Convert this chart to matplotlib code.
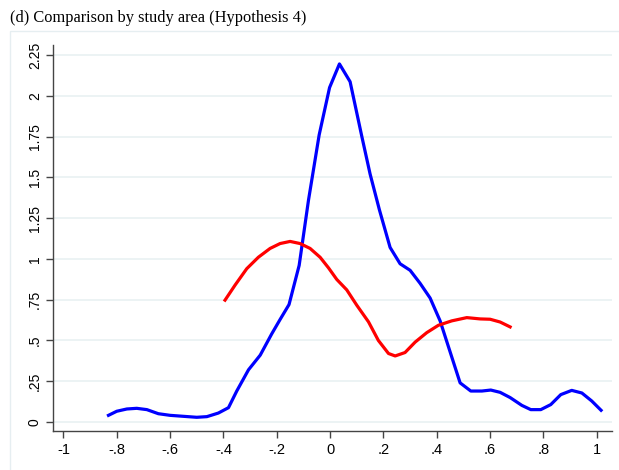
import matplotlib
matplotlib.use("Agg")
import matplotlib.pyplot as plt
from matplotlib.patches import Rectangle

# density curves
blue_x = [-0.831, -0.80, -0.762, -0.725, -0.687, -0.644, -0.60, -0.55, -0.50, -0.462,
          -0.419, -0.381, -0.35, -0.306, -0.262, -0.219, -0.187, -0.154, -0.116, -0.081,
          -0.041, -0.002, 0.035, 0.075, 0.119, 0.15, 0.185, 0.225, 0.2625, 0.30,
          0.3375, 0.375, 0.4125, 0.45, 0.4875, 0.5275, 0.569, 0.6025, 0.6375, 0.675,
          0.719, 0.7525, 0.79, 0.8275, 0.865, 0.906, 0.944, 0.981, 1.016]
blue_y = [0.041, 0.066, 0.080, 0.084, 0.076, 0.051, 0.041, 0.035, 0.029, 0.033,
          0.055, 0.088, 0.19, 0.32, 0.41, 0.54, 0.63, 0.72, 0.96, 1.36,
          1.76, 2.05, 2.195, 2.086, 1.75, 1.52, 1.30, 1.07, 0.97, 0.93,
          0.85, 0.76, 0.62, 0.43, 0.24, 0.19, 0.19, 0.196, 0.182, 0.15,
          0.102, 0.076, 0.076, 0.107, 0.168, 0.194, 0.178, 0.129, 0.072]

red_x = [-0.394, -0.356, -0.3125, -0.269, -0.225, -0.1875, -0.15, -0.1125, -0.075, -0.0375,
         -0.006, 0.025, 0.0625, 0.1, 0.144, 0.181, 0.219, 0.244, 0.281, 0.319,
         0.3625, 0.406, 0.456, 0.5125, 0.5625, 0.60, 0.6375, 0.675]
red_y = [0.747, 0.84, 0.94, 1.01, 1.064, 1.094, 1.107, 1.094, 1.064, 1.01,
         0.945, 0.874, 0.81, 0.716, 0.614, 0.50, 0.42, 0.405, 0.426, 0.49,
         0.548, 0.593, 0.62, 0.64, 0.632, 0.63, 0.613, 0.583]

x_ticks = [-1, -0.8, -0.6, -0.4, -0.2, 0, 0.2, 0.4, 0.6, 0.8, 1]
x_labels = ["-1", "-.8", "-.6", "-.4", "-.2", "0", ".2", ".4", ".6", ".8", "1"]
y_ticks = [0, 0.25, 0.5, 0.75, 1, 1.25, 1.5, 1.75, 2, 2.25]
y_labels = ["0", ".25", ".5", ".75", "1", "1.25", "1.5", "1.75", "2", "2.25"]

title = "(d) Comparison by study area (Hypothesis 4)"

W, H = 619, 470
fig = plt.figure(figsize=(W / 100, H / 100), dpi=100)
fig.patch.set_facecolor("white")

# light outer frame of the graph region
fig.add_artist(Rectangle((10 / W, -0.1), 1.2, (H - 31) / H + 0.1, transform=fig.transFigure,
                         fill=False, edgecolor="#e6eef1", linewidth=1.0))

fig.text(10 / W, 1 - 18 / H, title, family=["Liberation Serif", "DejaVu Serif"],
         fontsize=11.8, va="center", ha="left", color="black")

ax = fig.add_axes([53 / W, (H - 431) / H, (612 - 53) / W, (431 - 45) / H])
ax.plot(blue_x, blue_y, color="#0000ff", lw=2.3, solid_joinstyle="round")
ax.plot(red_x, red_y, color="#ff0000", lw=2.3, solid_joinstyle="round")

ax.set_xlim(-1.039, 1.057)
ax.set_ylim(-0.055, 2.311)
ax.set_xticks(x_ticks)
ax.set_xticklabels(x_labels, family=["Liberation Sans", "DejaVu Sans"], fontsize=10.5)
ax.set_yticks(y_ticks)
ax.set_yticklabels(y_labels, family=["Liberation Sans", "DejaVu Sans"], fontsize=10,
                   rotation=90, va="center")

for s in ["top", "right"]:
    ax.spines[s].set_visible(False)
for s in ["left", "bottom"]:
    ax.spines[s].set_color("#444444")
    ax.spines[s].set_linewidth(1.0)
ax.tick_params(axis="both", length=5, width=1.0, color="#444444", labelcolor="black")
ax.tick_params(axis="x", pad=4)
ax.tick_params(axis="y", pad=3)

ax.grid(axis="y", color="#eaf2f3", linewidth=1.3)
ax.set_axisbelow(True)

fig.savefig("out.png", dpi=100)
